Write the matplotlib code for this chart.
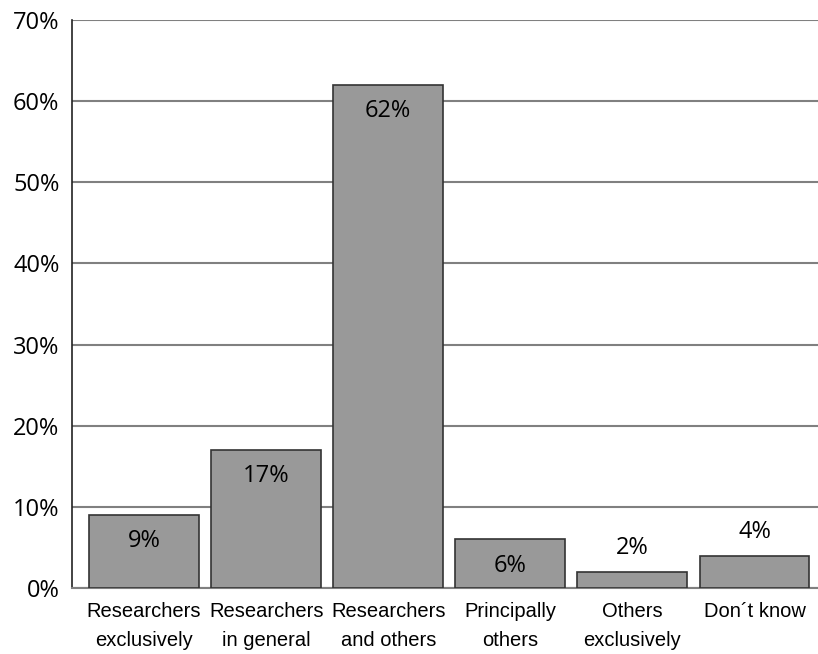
import numpy as np
from matplotlib import pyplot as plt

categories = ["Researchers\nexclusively", "Researchers\nin general", "Researchers\nand others",
              "Principally\nothers", "Others\nexclusively", "Don\u00b4t know"]
values = [9, 17, 62, 6, 2, 4]
yticks = [0, 10, 20, 30, 40, 50, 60, 70]

num_font = ["Open Sans", "DejaVu Sans"]
cat_font = ["Liberation Sans Narrow", "Liberation Sans", "DejaVu Sans"]

fig = plt.figure(figsize=(8.18, 6.54), dpi=100)
ax = fig.add_axes([72 / 818, 1 - 588 / 654, 746 / 818, 568 / 654])

x = np.arange(len(values))
ax.bar(x, values, width=0.9, color="#999999", edgecolor="#333333", linewidth=1.2, zorder=3)

ax.set_ylim(0, 70)
ax.set_xlim(-0.59, 5.52)
ax.set_yticks(yticks)
ax.set_yticklabels(["{}%".format(v) for v in yticks], family=num_font, fontsize=17)
ax.set_xticks(x)
ax.set_xticklabels(categories, family=cat_font, fontsize=14.5, linespacing=1.68)
ax.tick_params(axis="both", length=0)
ax.tick_params(axis="y", pad=9)
ax.tick_params(axis="x", pad=10)

ax.grid(axis="y", color="#808080", linewidth=1.5, zorder=0)
for s in ["top", "right"]:
    ax.spines[s].set_visible(False)
ax.spines["left"].set_color("#222222")
ax.spines["left"].set_linewidth(1.2)
ax.spines["bottom"].set_color("#808080")
ax.spines["bottom"].set_linewidth(1.5)

for xi, v in zip(x, values):
    # tall bars get the label inside, short ones above
    off = -19 if v >= 5 else 17
    ax.annotate("{}%".format(v), (xi, v), xytext=(0, off), textcoords="offset points",
                ha="center", va="center", family=num_font, fontsize=17, zorder=4)

fig.savefig("out.png", dpi=100)
